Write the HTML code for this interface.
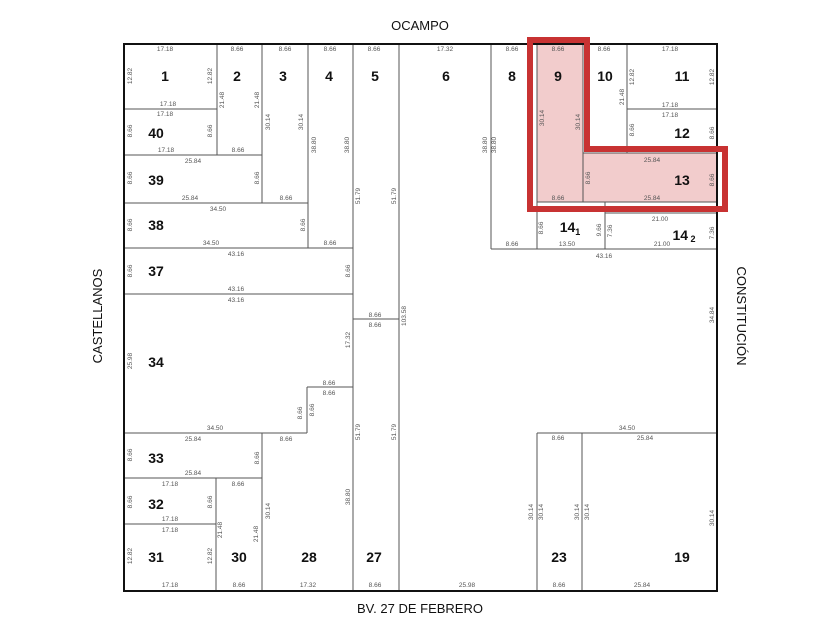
<!DOCTYPE html>
<html><head><meta charset="utf-8"><style>
body{margin:0;background:#fff}
svg{display:block}
.n{font:bold 14px "Liberation Sans",sans-serif;fill:#111;text-anchor:middle}
.d{font:6.5px "Liberation Sans",sans-serif;fill:#555;text-anchor:middle}
.s{font:13px "Liberation Sans",sans-serif;fill:#111;text-anchor:middle}
line{stroke:#555;stroke-width:1}
</style></head><body>
<svg width="840" height="630" viewBox="0 0 840 630">
<!-- highlighted L -->
<polygon points="537,44 583,44 583,153 717,153 717,202 537,202" fill="#f2cccc"/>
<g>
<line x1="217" y1="44" x2="217" y2="155"/>
<line x1="124" y1="109" x2="217" y2="109"/>
<line x1="124" y1="155" x2="262" y2="155"/>
<line x1="262" y1="44" x2="262" y2="203"/>
<line x1="124" y1="203" x2="308" y2="203"/>
<line x1="308" y1="44" x2="308" y2="248"/>
<line x1="124" y1="248" x2="353" y2="248"/>
<line x1="353" y1="44" x2="353" y2="591"/>
<line x1="399" y1="44" x2="399" y2="591"/>
<line x1="124" y1="294" x2="353" y2="294"/>
<line x1="353" y1="319" x2="399" y2="319"/>
<line x1="307" y1="387" x2="353" y2="387"/>
<line x1="307" y1="387" x2="307" y2="433"/>
<line x1="124" y1="433" x2="307" y2="433"/>
<line x1="262" y1="433" x2="262" y2="591"/>
<line x1="124" y1="478" x2="262" y2="478"/>
<line x1="216" y1="478" x2="216" y2="591"/>
<line x1="124" y1="524" x2="216" y2="524"/>
<line x1="491" y1="44" x2="491" y2="249"/>
<line x1="491" y1="249" x2="717" y2="249"/>
<line x1="537" y1="44" x2="537" y2="249"/>
<line x1="583" y1="44" x2="583" y2="202"/>
<line x1="627" y1="44" x2="627" y2="153"/>
<line x1="627" y1="109" x2="717" y2="109"/>
<line x1="583" y1="153" x2="717" y2="153"/>
<line x1="537" y1="202" x2="717" y2="202"/>
<line x1="605" y1="202" x2="605" y2="249"/>
<line x1="605" y1="213" x2="717" y2="213"/>
<line x1="537" y1="433" x2="717" y2="433"/>
<line x1="537" y1="433" x2="537" y2="591"/>
<line x1="582" y1="433" x2="582" y2="591"/>
</g>
<rect x="124" y="44" width="593" height="547" fill="none" stroke="#111" stroke-width="2"/>
<polygon points="530,40 587,40 587,149 725,149 725,209 530,209" fill="none" stroke="#c83232" stroke-width="6"/>

<text class="s" x="420" y="30">OCAMPO</text>
<text class="s" x="420" y="613">BV. 27 DE FEBRERO</text>
<text class="s" transform="translate(102,316) rotate(-90)">CASTELLANOS</text>
<text class="s" transform="translate(737,316) rotate(90)">CONSTITUCIÓN</text>

<g>
<text class="n" x="165" y="81">1</text><text class="n" x="237" y="81">2</text>
<text class="n" x="283" y="81">3</text><text class="n" x="329" y="81">4</text>
<text class="n" x="375" y="81">5</text><text class="n" x="446" y="81">6</text>
<text class="n" x="512" y="81">8</text><text class="n" x="558" y="81">9</text>
<text class="n" x="605" y="81">10</text><text class="n" x="682" y="81">11</text>
<text class="n" x="156" y="138">40</text><text class="n" x="682" y="138">12</text>
<text class="n" x="156" y="185">39</text><text class="n" x="682" y="185">13</text>
<text class="n" x="156" y="230">38</text>
<text class="n" x="570" y="232">14<tspan font-size="9" dy="3">1</tspan></text>
<text class="n" x="684" y="240">14<tspan font-size="9" dy="2"> 2</tspan></text>
<text class="n" x="156" y="276">37</text><text class="n" x="156" y="367">34</text>
<text class="n" x="156" y="463">33</text><text class="n" x="156" y="509">32</text>
<text class="n" x="156" y="562">31</text><text class="n" x="239" y="562">30</text>
<text class="n" x="309" y="562">28</text><text class="n" x="374" y="562">27</text>
<text class="n" x="559" y="562">23</text><text class="n" x="682" y="562">19</text>
</g>
<g class="d">
<text class="d" x="165" y="51">17.18</text><text class="d" x="237" y="51">8.66</text>
<text class="d" x="285" y="51">8.66</text><text class="d" x="330" y="51">8.66</text>
<text class="d" x="374" y="51">8.66</text><text class="d" x="445" y="51">17.32</text>
<text class="d" x="512" y="51">8.66</text><text class="d" x="558" y="51">8.66</text>
<text class="d" x="604" y="51">8.66</text><text class="d" x="670" y="51">17.18</text>
<text class="d" x="168" y="106">17.18</text><text class="d" x="165" y="116">17.18</text>
<text class="d" x="166" y="152">17.18</text><text class="d" x="238" y="152">8.66</text>
<text class="d" x="670" y="107">17.18</text><text class="d" x="670" y="117">17.18</text>
<text class="d" x="193" y="163">25.84</text><text class="d" x="190" y="200">25.84</text>
<text class="d" x="286" y="200">8.66</text>
<text class="d" x="218" y="211">34.50</text><text class="d" x="211" y="245">34.50</text>
<text class="d" x="330" y="245">8.66</text>
<text class="d" x="236" y="256">43.16</text><text class="d" x="236" y="291">43.16</text>
<text class="d" x="236" y="302">43.16</text>
<text class="d" x="375" y="317">8.66</text><text class="d" x="375" y="327">8.66</text>
<text class="d" x="329" y="385">8.66</text><text class="d" x="329" y="395">8.66</text>
<text class="d" x="215" y="430">34.50</text><text class="d" x="193" y="441">25.84</text>
<text class="d" x="286" y="441">8.66</text><text class="d" x="193" y="475">25.84</text>
<text class="d" x="170" y="486">17.18</text><text class="d" x="238" y="486">8.66</text>
<text class="d" x="170" y="521">17.18</text><text class="d" x="170" y="532">17.18</text>
<text class="d" x="170" y="587">17.18</text><text class="d" x="239" y="587">8.66</text>
<text class="d" x="308" y="587">17.32</text><text class="d" x="375" y="587">8.66</text>
<text class="d" x="467" y="587">25.98</text><text class="d" x="559" y="587">8.66</text>
<text class="d" x="642" y="587">25.84</text>
<text class="d" x="558" y="440">8.66</text><text class="d" x="627" y="430">34.50</text>
<text class="d" x="645" y="440">25.84</text>
<text class="d" x="512" y="246">8.66</text><text class="d" x="567" y="246">13.50</text>
<text class="d" x="662" y="246">21.00</text><text class="d" x="604" y="258">43.16</text>
<text class="d" x="660" y="221">21.00</text>
<text class="d" x="558" y="200">8.66</text><text class="d" x="652" y="162">25.84</text>
<text class="d" x="652" y="200">25.84</text>
</g>
<g class="d">
<text class="d" transform="translate(132,76) rotate(-90)">12.82</text>
<text class="d" transform="translate(212,76) rotate(-90)">12.82</text>
<text class="d" transform="translate(224,100) rotate(-90)">21.48</text>
<text class="d" transform="translate(259,100) rotate(-90)">21.48</text>
<text class="d" transform="translate(270,122) rotate(-90)">30.14</text>
<text class="d" transform="translate(303,122) rotate(-90)">30.14</text>
<text class="d" transform="translate(316,145) rotate(-90)">38.80</text>
<text class="d" transform="translate(349,145) rotate(-90)">38.80</text>
<text class="d" transform="translate(360,196) rotate(-90)">51.79</text>
<text class="d" transform="translate(396,196) rotate(-90)">51.79</text>
<text class="d" transform="translate(132,131) rotate(-90)">8.66</text>
<text class="d" transform="translate(212,131) rotate(-90)">8.66</text>
<text class="d" transform="translate(132,178) rotate(-90)">8.66</text>
<text class="d" transform="translate(259,178) rotate(-90)">8.66</text>
<text class="d" transform="translate(132,225) rotate(-90)">8.66</text>
<text class="d" transform="translate(305,225) rotate(-90)">8.66</text>
<text class="d" transform="translate(132,271) rotate(-90)">8.66</text>
<text class="d" transform="translate(350,271) rotate(-90)">8.66</text>
<text class="d" transform="translate(132,361) rotate(-90)">25.98</text>
<text class="d" transform="translate(350,340) rotate(-90)">17.32</text>
<text class="d" transform="translate(406,316) rotate(-90)">103.58</text>
<text class="d" transform="translate(302,413) rotate(-90)">8.66</text>
<text class="d" transform="translate(314,410) rotate(-90)">8.66</text>
<text class="d" transform="translate(360,432) rotate(-90)">51.79</text>
<text class="d" transform="translate(396,432) rotate(-90)">51.79</text>
<text class="d" transform="translate(132,455) rotate(-90)">8.66</text>
<text class="d" transform="translate(259,458) rotate(-90)">8.66</text>
<text class="d" transform="translate(132,502) rotate(-90)">8.66</text>
<text class="d" transform="translate(212,502) rotate(-90)">8.66</text>
<text class="d" transform="translate(132,556) rotate(-90)">12.82</text>
<text class="d" transform="translate(212,556) rotate(-90)">12.82</text>
<text class="d" transform="translate(222,530) rotate(-90)">21.48</text>
<text class="d" transform="translate(258,534) rotate(-90)">21.48</text>
<text class="d" transform="translate(270,511) rotate(-90)">30.14</text>
<text class="d" transform="translate(350,497) rotate(-90)">38.80</text>
<text class="d" transform="translate(487,145) rotate(-90)">38.80</text>
<text class="d" transform="translate(496,145) rotate(-90)">38.80</text>
<text class="d" transform="translate(544,118) rotate(-90)">30.14</text>
<text class="d" transform="translate(580,122) rotate(-90)">30.14</text>
<text class="d" transform="translate(624,97) rotate(-90)">21.48</text>
<text class="d" transform="translate(634,77) rotate(-90)">12.82</text>
<text class="d" transform="translate(714,77) rotate(-90)">12.82</text>
<text class="d" transform="translate(634,130) rotate(-90)">8.66</text>
<text class="d" transform="translate(714,133) rotate(-90)">8.66</text>
<text class="d" transform="translate(590,178) rotate(-90)">8.66</text>
<text class="d" transform="translate(714,180) rotate(-90)">8.66</text>
<text class="d" transform="translate(543,228) rotate(-90)">8.66</text>
<text class="d" transform="translate(601,230) rotate(-90)">9.66</text>
<text class="d" transform="translate(612,231) rotate(-90)">7.36</text>
<text class="d" transform="translate(714,233) rotate(-90)">7.36</text>
<text class="d" transform="translate(714,315) rotate(-90)">34.84</text>
<text class="d" transform="translate(533,512) rotate(-90)">30.14</text>
<text class="d" transform="translate(543,512) rotate(-90)">30.14</text>
<text class="d" transform="translate(579,512) rotate(-90)">30.14</text>
<text class="d" transform="translate(589,512) rotate(-90)">30.14</text>
<text class="d" transform="translate(714,518) rotate(-90)">30.14</text>
</g>
</svg>
</body></html>
